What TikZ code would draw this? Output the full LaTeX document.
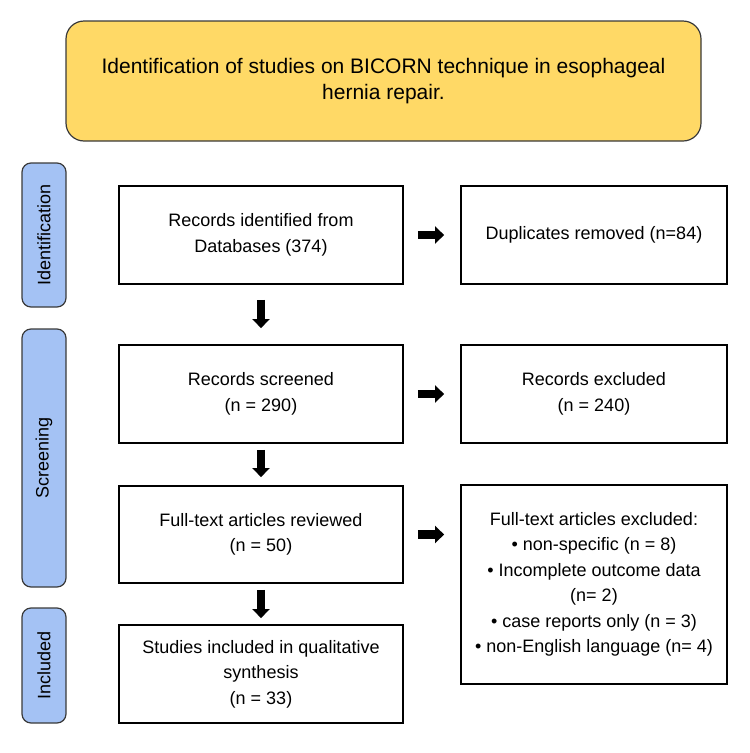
\documentclass[tikz,border=0pt]{standalone}
\usepackage{fontspec}
\setmainfont{Liberation Sans}
\usetikzlibrary{arrows.meta}
\definecolor{bannerfill}{HTML}{FFD966}
\definecolor{labelfill}{HTML}{A4C2F4}
\definecolor{edgegray}{HTML}{3A3A3A}
\begin{document}
\begin{tikzpicture}[x=1pt,y=-1pt,
  box/.style={draw=black, line width=1.8pt, fill=white, inner sep=0pt, align=center,
    font=\fontsize{18}{25.5}\selectfont},
  leftbox/.style={box, minimum width=284pt, minimum height=98pt},
  rightbox/.style={box, minimum width=266pt, minimum height=98pt},
  phase/.style={draw=edgegray, line width=1.2pt, fill=labelfill, rounded corners=9pt,
    rotate=90, inner sep=0pt, minimum height=44pt, font=\fontsize{18}{22}\selectfont},
  banner/.style={draw=edgegray, line width=1.2pt, fill=bannerfill, rounded corners=18pt,
    inner sep=0pt, align=center, minimum width=635pt, minimum height=120pt,
    font=\fontsize{21}{26}\selectfont},
  flow/.style={black, line width=8.5pt, -{Triangle[length=9pt,width=17pt]}}
]
\useasboundingbox (0,0) rectangle (750,753);

\node[banner] (title) at (383.5,81) {Identification of studies on BICORN technique in esophageal\\hernia repair.};

\node[phase, minimum width=144pt] (pid) at (44,235) {Identification};
\node[phase, minimum width=258pt] (psc) at (44,458) {Screening};
\node[phase, minimum width=115pt] (pin) at (44,665.5) {Included};

\node[leftbox] (rid) at (261,235) {Records identified from\\Databases (374)};
\node[leftbox] (rsc) at (261,394) {Records screened\\(n = 290)};
\node[leftbox, minimum height=97pt] (ftr) at (261,534.5) {Full-text articles reviewed\\(n = 50)};
\node[leftbox] (sin) at (261,674) {Studies included in qualitative\\synthesis\\(n = 33)};

\node[rightbox] (dup) at (594,235) {Duplicates removed (n=84)};
\node[rightbox] (rex) at (594,394) {Records excluded\\(n = 240)};
\node[rightbox, minimum height=199pt] (fte) at (594,584.5) {Full-text articles excluded:\\
  \textbullet\ non-specific (n = 8)\\
  \textbullet\ Incomplete outcome data\\
  (n= 2)\\
  \textbullet\ case reports only (n = 3)\\
  \textbullet\ non-English language (n= 4)};

\draw[flow, shorten <=14pt, shorten >=16pt] (rid.east) -- (dup.west);
\draw[flow, shorten <=14pt, shorten >=16pt] (rsc.east) -- (rex.west);
\draw[flow, shorten <=14pt, shorten >=16pt] (ftr.east) -- (ftr.east -| fte.west);

\draw[flow, shorten <=15pt, shorten >=16pt] (rid.south) -- (rsc.north);
\draw[flow, shorten <=6pt, shorten >=8pt] (rsc.south) -- (ftr.north);
\draw[flow, shorten <=6pt, shorten >=6pt] (ftr.south) -- (sin.north);
\end{tikzpicture}
\end{document}
